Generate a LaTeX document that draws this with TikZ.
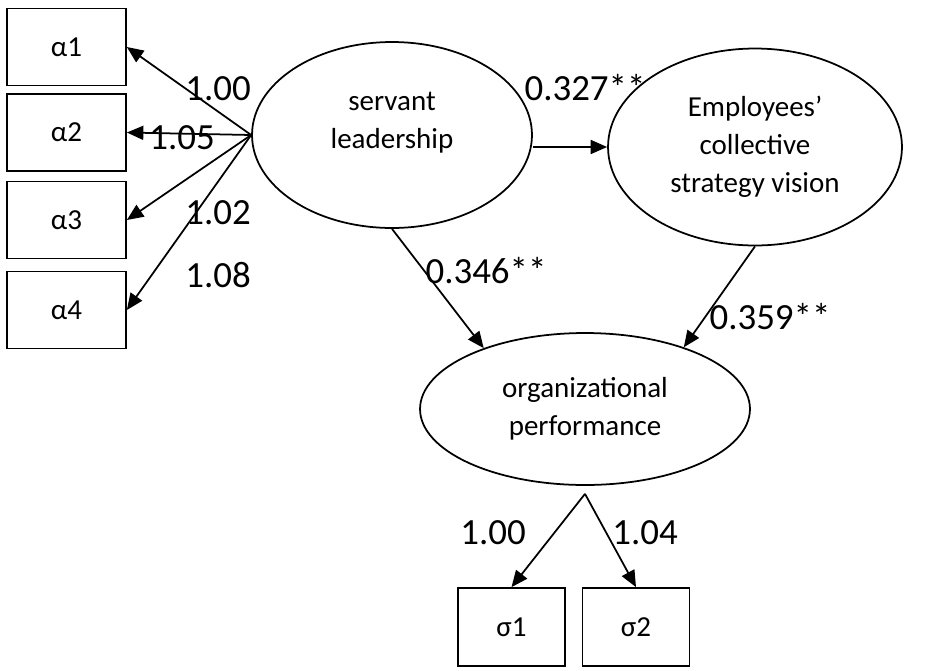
\documentclass[tikz,border=0pt]{standalone}
\usepackage{fontspec}
\setmainfont{Carlito}
\usetikzlibrary{shapes.geometric,arrows.meta}

\begin{document}
\begin{tikzpicture}[x=0.02cm,y=-0.02cm,line width=1pt,
  >={Triangle[length=0.33cm,width=0.28cm]},
  latent/.style={draw,ellipse,inner sep=0pt,align=center,font=\fontsize{16.5}{21.5}\selectfont},
  observed/.style={draw,rectangle,inner sep=0pt,font=\fontsize{16.5}{20}\selectfont},
  coef/.style={inner sep=0pt,font=\fontsize{21}{25}\selectfont}]

  \useasboundingbox (0,0) rectangle (949,670);

  \node[latent,minimum width=5.6cm,minimum height=3.72cm] (sl) at (392,135) {servant\\leadership\\[-4.5pt]\mbox{}};
  \node[latent,minimum width=5.88cm,minimum height=3.94cm] (ecsv) at (755,147) {Employees'\\collective\\strategy vision};
  \node[latent,minimum width=6.6cm,minimum height=3.04cm] (op) at (585,409) {organizational\\performance};

  \foreach \i/\y in {1/47,2/132.5,3/220,4/310}
    \node[observed,minimum width=2.38cm,minimum height=1.54cm] (a\i) at (66.5,\y) {α\i};
  \node[observed,minimum width=2.14cm,minimum height=1.56cm] (s1) at (511.5,627) {σ1};
  \node[observed,minimum width=2.14cm,minimum height=1.56cm] (s2) at (636,627) {σ2};

  \foreach \i in {1,...,4} \draw[->] (sl.west) -- (a\i.east);
  \draw[->] (ecsv.west -| sl.east) -- (ecsv.west);
  \draw[->] (sl.south) -- (op.149);
  \draw[->] (ecsv.south) -- (op.32);
  \coordinate (apex) at ([yshift=-0.16cm]op.south);
  \draw[->] (apex) -- (s1.north);
  \draw[->] (apex) -- (s2.north);

  \node[coef] (c1) at (218,89) {1.00};
  \node[coef] (c2) at (182,138) {1.05};
  \node[coef] (c3) at (218,213) {1.02};
  \node[coef] (c4) at (218,275) {1.08};
  \node[coef] (c5) at (585,88) {0.327**};
  \node[coef] (c6) at (486,271) {0.346**};
  \node[coef] (c7) at (770,317) {0.359**};
  \node[coef] (c8) at (493,533) {1.00};
  \node[coef] (c9) at (645,533) {1.04};

\end{tikzpicture}
\end{document}
